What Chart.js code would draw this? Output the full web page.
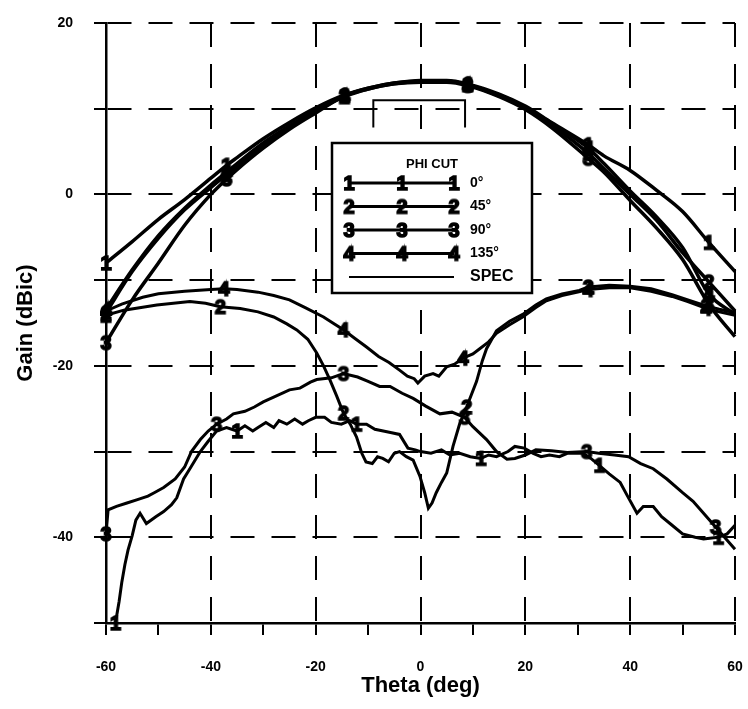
<!DOCTYPE html>
<html>
<head>
<meta charset="utf-8">
<script src="https://cdn.jsdelivr.net/npm/chart.js@4.4.1/dist/chart.umd.min.js"></script>
<style>
  html, body { margin: 0; padding: 0; background: #fff; }
  #wrap { width: 748px; height: 709px; }
</style>
</head>
<body>
<div id="wrap"><canvas id="gainChart" width="748" height="709"></canvas></div>
<script>
// co-pol cuts, all read on one theta grid
const thetaCo = [-60, -55, -50, -45, -40, -37, -35, -30, -25, -20, -14.5, -10, -5, 0, 5, 9, 15, 20, 25, 32, 35, 40, 45, 50, 55, 60];
const gainCo1 = [-8.0, -5.5, -2.9, -0.6, 1.9, 3.4, 4.3, 6.5, 8.4, 10.1, 11.6, 12.4, 13.0, 13.3, 13.3, 12.9, 11.7, 10.3, 8.4, 5.8, 4.5, 2.8, 0.5, -2.0, -5.6, -9.0];
const gainCo2 = [-13.8, -9.0, -5.1, -1.8, 0.8, 2.3, 3.3, 5.7, 7.8, 9.7, 11.4, 12.3, 12.9, 13.2, 13.2, 12.8, 11.5, 10.1, 8.1, 4.8, 3.0, 0.0, -3.0, -6.8, -10.2, -13.6];
const gainCo3 = [-17.3, -12.3, -8.0, -3.6, 0.0, 1.8, 2.9, 5.4, 7.6, 9.5, 11.5, 12.3, 12.9, 13.1, 13.1, 12.7, 11.4, 9.9, 7.8, 4.2, 2.6, -0.7, -3.9, -7.6, -12.8, -16.6];
const gainCo4 = [-13.4, -8.8, -4.8, -1.6, 1.1, 2.6, 3.6, 6.0, 8.0, 9.8, 11.5, 12.4, 13.0, 13.2, 13.2, 12.8, 11.6, 10.2, 8.3, 5.4, 3.6, 0.4, -2.6, -6.2, -11.6, -14.0];
const marksCo = [-60, -37, -14.5, 9, 32, 55];

// cross-pol cuts (ragged measured traces)
const thetaX1 = [-58.2, -57.5, -57, -56.4, -55.8, -55, -54.3, -53.5, -52.3, -50.5, -49, -47.5, -46.5, -45.2, -44, -42, -40.5, -38.9, -37, -35, -33.5, -32, -31, -29.5, -28, -27, -25.5, -24, -22.5, -21.4, -20, -18.3, -17, -15.1, -13.5, -12.2, -10.3, -8.7, -7.1, -5.5, -4, -2.4, -1, 0, 2, 4, 5.6, 7.5, 9.5, 11.5, 13, 14.5, 16.7, 18, 19.8, 21.5, 23, 24.6, 26.5, 28, 31, 32.5, 34.1, 36, 38.1, 39.5, 41.3, 42.5, 44.4, 46, 48, 50, 52.4, 54, 56.8, 58.5, 60];
const gainX1 = [-50.0, -47.5, -45.3, -43.2, -41.5, -39.8, -38.0, -37.2, -38.4, -37.6, -37.0, -36.2, -35.4, -33.2, -32.0, -30.0, -28.8, -27.6, -27.2, -27.6, -27.0, -27.6, -27.2, -26.6, -27.2, -26.4, -26.8, -26.2, -26.8, -26.4, -26.0, -26.0, -26.6, -26.8, -26.4, -26.8, -26.8, -27.4, -27.6, -27.8, -28.0, -29.6, -29.8, -30.0, -30.2, -29.8, -30.4, -30.2, -30.6, -30.8, -30.4, -30.6, -30.0, -29.4, -29.6, -30.2, -30.6, -30.4, -30.6, -30.2, -30.2, -30.8, -31.6, -32.6, -33.6, -35.2, -37.2, -36.4, -36.4, -37.6, -38.6, -39.6, -40.0, -40.2, -40.0, -39.6, -38.6];
const marksX1 = [-58.2, -35, -12.2, 11.5, 34.1, 56.8];

const thetaX2 = [-60, -56.6, -50.3, -44, -41, -38.2, -34.4, -31, -28, -25.5, -23.6, -21.5, -19.8, -18.5, -17.3, -16, -14.7, -13.4, -12.2, -11.2, -10.4, -9.2, -8.2, -7.2, -6.1, -5, -4, -2.7, -1.4, -0.1, 0.8, 1.5, 2.2, 3, 4, 5, 6.2, 7.5, 8.8, 10.7, 11.8, 12.6, 14.5, 17, 19.5, 22, 24, 27, 30.3, 32, 36, 40, 44, 48, 51, 54.5, 57, 60];
const gainX2 = [-14.1, -13.5, -12.9, -12.5, -12.7, -13.1, -13.3, -13.7, -14.3, -15.1, -15.8, -16.9, -18.5, -20.0, -21.6, -23.5, -25.5, -26.8, -28.3, -30.2, -31.2, -31.4, -30.6, -30.8, -31.2, -30.2, -30.0, -30.6, -31.0, -32.9, -34.8, -36.6, -36.0, -34.8, -33.6, -32.5, -29.4, -26.7, -24.8, -21.8, -19.4, -18.0, -15.9, -14.8, -14.0, -12.9, -12.2, -11.6, -11.2, -10.8, -10.6, -10.7, -11.0, -11.7, -12.3, -13.0, -13.4, -13.8];
const marksX2 = [-60, -38.2, -14.7, 8.8, 32, 54.5];

const thetaX3 = [-60, -59.6, -58, -56, -54, -52, -50.8, -49, -46.8, -45, -43.7, -42, -40.5, -38.9, -37, -35.7, -33.5, -31.7, -30, -27.8, -25, -23, -21, -19.8, -17, -14.7, -12, -10, -7.8, -5.8, -3.5, -1.4, 1, 3.7, 6, 8.4, 10, 12.6, 14.5, 16.5, 18, 20, 22, 25, 28, 31.7, 34, 37, 39.7, 42, 44.4, 47, 50, 52, 54, 56.3, 58, 60];
const gainX3 = [-39.6, -36.8, -36.4, -36.0, -35.6, -35.2, -34.8, -34.2, -33.2, -31.8, -30.0, -28.6, -27.6, -26.8, -26.2, -25.6, -25.3, -24.8, -24.2, -23.6, -22.8, -22.6, -21.9, -21.6, -21.4, -20.9, -21.3, -21.8, -22.4, -22.4, -23.2, -23.8, -24.7, -25.6, -25.4, -26.0, -27.1, -28.6, -30.0, -30.9, -30.8, -30.4, -29.8, -29.9, -30.1, -30.0, -30.2, -30.4, -30.6, -31.4, -32.0, -33.2, -34.8, -35.8, -37.2, -38.8, -40.0, -41.4];
const marksX3 = [-60, -38.9, -14.7, 8.4, 31.7, 56.3];

const thetaX4 = [-60, -57, -53, -50, -45, -40, -37.5, -35, -31, -28, -25, -22, -18.5, -16.5, -14.7, -12.5, -10.3, -8, -6, -4, -2.5, -1.2, -0.5, 0.8, 2.4, 3.5, 5, 6.5, 8.1, 10, 11.3, 13, 14.5, 17, 19.5, 22, 24, 27, 30, 32, 36, 40, 44, 48, 51, 54.5, 57, 60];
const gainX4 = [-13.6, -12.8, -12.0, -11.6, -11.3, -11.1, -11.0, -11.1, -11.4, -11.8, -12.3, -13.2, -14.3, -15.1, -15.8, -16.8, -17.8, -18.9, -19.6, -20.5, -21.2, -21.5, -22.0, -21.2, -20.9, -21.2, -20.1, -19.8, -19.1, -18.6, -18.0, -17.2, -16.2, -15.2, -14.3, -13.2, -12.4, -11.8, -11.4, -11.1, -10.9, -10.9, -11.3, -11.9, -12.5, -13.3, -13.7, -14.1];
const marksX4 = [-60, -37.5, -14.7, 8.1, 32, 54.5];

const specTheta = [-9, -9, 8.5, 8.5];
const specGain = [7.8, 11, 11, 7.8];

const phiCuts = ['0\u00b0', '45\u00b0', '90\u00b0', '135\u00b0'];
const cutDigits = ['1', '2', '3', '4'];

const FONT = '"Liberation Sans", Arial, sans-serif';

function digitMark(d) {
  const cv = document.createElement('canvas');
  cv.width = 18; cv.height = 24;
  const g = cv.getContext('2d');
  g.font = 'bold 20px ' + FONT;
  g.textAlign = 'center';
  g.textBaseline = 'middle';
  g.fillStyle = '#000';
  g.strokeStyle = '#000';
  g.lineWidth = 1.6;
  g.fillText(d, 9, 13);
  g.strokeText(d, 9, 13);
  return cv;
}
const digitImgs = {};
cutDigits.forEach(d => { digitImgs[d] = digitMark(d); });

const pts = (th, g) => th.map((t, i) => ({ x: t, y: g[i] }));

function curve(th, g, digit, marks, width, smooth) {
  return {
    data: pts(th, g),
    digit: digit,
    marks: marks,
    borderColor: '#000',
    borderWidth: width,
    showLine: true,
    tension: smooth ? 0.4 : 0,
    cubicInterpolationMode: smooth ? 'monotone' : 'default',
    clip: false,
    pointRadius: c => (c.raw && c.dataset.marks.includes(c.raw.x)) ? 6 : 0,
    pointStyle: c => (c.raw && c.dataset.marks.includes(c.raw.x)) ? digitImgs[c.dataset.digit] : 'circle'
  };
}

const datasets = [
  curve(thetaCo, gainCo1, '1', marksCo, 3.5, true),
  curve(thetaCo, gainCo2, '2', marksCo, 3.5, true),
  curve(thetaCo, gainCo3, '3', marksCo, 3.5, true),
  curve(thetaCo, gainCo4, '4', marksCo, 3.5, true),
  curve(thetaX1, gainX1, '1', marksX1, 3, false),
  curve(thetaX2, gainX2, '2', marksX2, 3, false),
  curve(thetaX3, gainX3, '3', marksX3, 3, false),
  curve(thetaX4, gainX4, '4', marksX4, 3, false),
  {
    data: pts(specTheta, specGain),
    borderColor: '#000',
    borderWidth: 2,
    showLine: true,
    pointRadius: 0
  }
];

// the PHI CUT key in the middle of the plot
const phiKey = {
  id: 'phiKey',
  beforeDatasetsDraw(chart) {
    const c = chart.ctx;
    const L = 332, T = 143, W = 200, H = 150;
    c.save();
    c.fillStyle = '#fff';
    c.fillRect(L, T, W, H);
    c.lineWidth = 2.5;
    c.strokeStyle = '#000';
    c.strokeRect(L, T, W, H);
    c.fillStyle = '#000';
    c.textBaseline = 'middle';
    c.textAlign = 'center';
    c.font = 'bold 13px ' + FONT;
    c.fillText('PHI CUT', 432, 164);
    const x0 = 349, x1 = 402, x2 = 454;
    phiCuts.forEach((lab, i) => {
      const y = 183 + i * 23.5;
      c.lineWidth = 3;
      c.beginPath(); c.moveTo(x0, y); c.lineTo(x2, y); c.stroke();
      const img = digitImgs[cutDigits[i]];
      [x0, x1, x2].forEach(x => c.drawImage(img, x - 9, y - 12));
      c.textAlign = 'left';
      c.font = 'bold 14px ' + FONT;
      c.fillText(lab, 470, y);
    });
    const ys = 277;
    c.lineWidth = 2;
    c.beginPath(); c.moveTo(349, ys); c.lineTo(454, ys); c.stroke();
    c.textAlign = 'left';
    c.font = 'bold 16px ' + FONT;
    c.fillText('SPEC', 470, ys);
    c.restore();
  }
};

const tickFont = { family: FONT, size: 14, weight: 'bold' };
const titleFont = { family: FONT, size: 22, weight: 'bold' };
const dash = [24, 17];

new Chart(document.getElementById('gainChart').getContext('2d'), {
  type: 'scatter',
  data: { datasets: datasets },
  options: {
    responsive: false,
    animation: false,
    layout: { padding: { top: 23, right: 13, left: 0, bottom: 0 } },
    plugins: { legend: { display: false }, tooltip: { enabled: false } },
    scales: {
      x: {
        type: 'linear', min: -60, max: 60,
        afterFit: s => { s.height = 86; s.paddingLeft = 0; s.paddingRight = 0; },
        border: { display: true, color: '#000', width: 2.5, dash: dash },
        grid: {
          color: c => (c.tick && c.tick.value % 20 === 0) ? '#000' : 'rgba(0,0,0,0)',
          lineWidth: 2, tickColor: '#000', tickLength: 12, tickWidth: 2
        },
        ticks: {
          stepSize: 10, autoSkip: false, maxRotation: 0, color: '#000', padding: 24, font: tickFont,
          callback: v => v % 20 === 0 ? v : ''
        },
        title: { display: true, text: 'Theta (deg)', color: '#000', font: titleFont, padding: { top: 0, bottom: 10 } }
      },
      y: {
        type: 'linear', min: -50, max: 20,
        afterFit: s => { s.width = 106; s.paddingTop = 0; s.paddingBottom = 0; },
        border: { display: true, color: '#000', width: 2.5, dash: dash },
        grid: { color: '#000', lineWidth: 2, tickColor: '#000', tickLength: 12, tickWidth: 2 },
        ticks: {
          stepSize: 10, autoSkip: false, color: '#000', padding: 21, font: tickFont,
          callback: v => v % 20 === 0 ? v : ''
        },
        title: { display: true, text: 'Gain (dBic)', color: '#000', font: titleFont, padding: { top: 13, bottom: 0 } }
      }
    }
  },
  plugins: [phiKey]
});
</script>
</body>
</html>
